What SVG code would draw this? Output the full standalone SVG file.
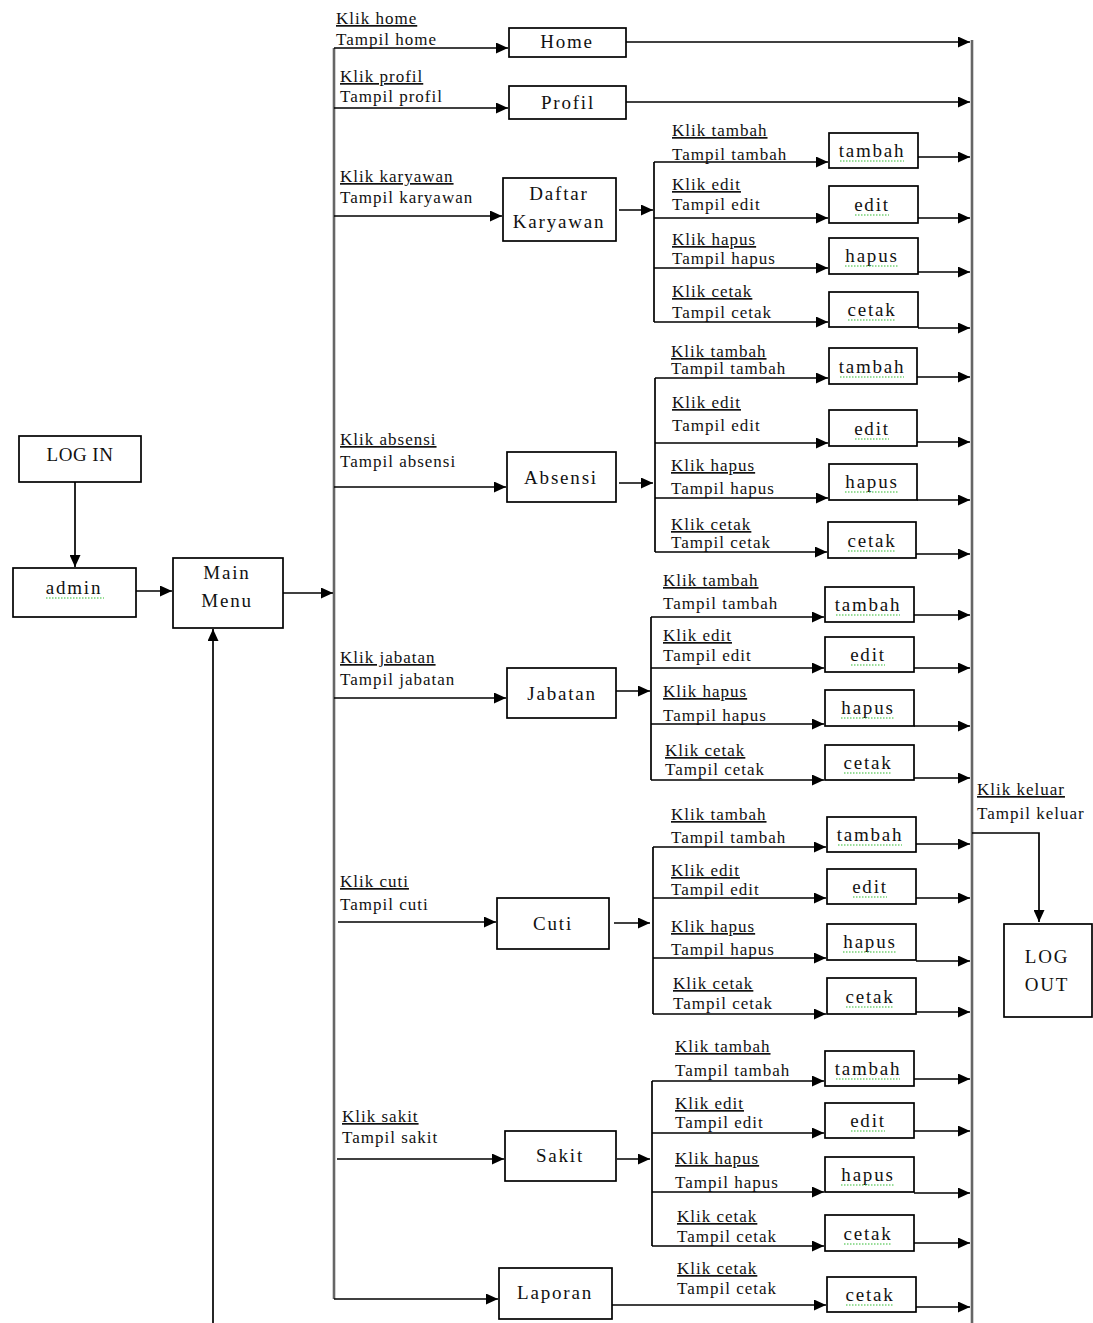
<svg xmlns="http://www.w3.org/2000/svg" width="1093" height="1323" viewBox="0 0 1093 1323">
<defs>
<marker id="ah" viewBox="0 0 12 11" refX="12" refY="5.5" markerWidth="12" markerHeight="11" markerUnits="userSpaceOnUse" orient="auto"><path d="M0,0 L12,5.5 L0,11 z" fill="#000"/></marker>
<style>
.box{fill:#fff;stroke:#000;stroke-width:1.7}
.nt{font-family:"Liberation Serif",serif;font-size:19px;letter-spacing:1.8px;text-anchor:middle;fill:#111}
.lb{font-family:"Liberation Serif",serif;font-size:17px;letter-spacing:1px;fill:#111}
.u{text-decoration:underline}
.ln{stroke:#000;stroke-width:1.7;fill:none}
.ar{stroke:#000;stroke-width:1.7;fill:none;marker-end:url(#ah)}
.bus{stroke:#666;stroke-width:2.6;fill:none}
.sq{stroke:#3b3;stroke-width:1.2;stroke-dasharray:1.5 1.5;fill:none}
</style>
</defs>
<rect width="1093" height="1323" fill="#fff"/>

<g id="connectors">
<line class="bus" x1="334" y1="48" x2="334" y2="1299"/>
<line class="bus" x1="972" y1="40" x2="972" y2="1323"/>
<path class="ar" d="M75,482 V567"/>
<path class="ar" d="M136,591 H172"/>
<path class="ar" d="M283,593 H333"/>
<path class="ar" d="M213,1323 V629"/>
<path class="ar" d="M334,48 H508"/>
<path class="ar" d="M334,108 H508"/>
<path class="ar" d="M334,216 H502"/>
<path class="ar" d="M334,487 H506"/>
<path class="ar" d="M334,698 H506"/>
<path class="ar" d="M338,922 H496"/>
<path class="ar" d="M337,1159 H504"/>
<path class="ar" d="M334,1299 H498"/>
<path class="ar" d="M626,42 H970"/>
<path class="ar" d="M626,102 H970"/>
<path class="ar" d="M619,210 H653"/>
<line class="ln" x1="654" y1="162" x2="654" y2="322"/>
<path class="ar" d="M654,162 H828"/>
<path class="ar" d="M654,218 H828"/>
<path class="ar" d="M654,268 H828"/>
<path class="ar" d="M654,322 H828"/>
<path class="ar" d="M918,157 H970"/>
<path class="ar" d="M918,218 H970"/>
<path class="ar" d="M918,272 H970"/>
<path class="ar" d="M918,328 H970"/>
<path class="ar" d="M619,483 H653"/>
<line class="ln" x1="655" y1="378" x2="655" y2="552"/>
<path class="ar" d="M655,378 H828"/>
<path class="ar" d="M655,443 H828"/>
<path class="ar" d="M655,498 H828"/>
<path class="ar" d="M655,552 H827"/>
<path class="ar" d="M917,377 H970"/>
<path class="ar" d="M917,442 H970"/>
<path class="ar" d="M917,500 H970"/>
<path class="ar" d="M916,554 H970"/>
<path class="ar" d="M616,691 H650"/>
<line class="ln" x1="651" y1="617" x2="651" y2="780"/>
<path class="ar" d="M651,617 H824"/>
<path class="ar" d="M651,668 H824"/>
<path class="ar" d="M651,724 H824"/>
<path class="ar" d="M651,780 H824"/>
<path class="ar" d="M914,615 H970"/>
<path class="ar" d="M914,668 H970"/>
<path class="ar" d="M914,726 H970"/>
<path class="ar" d="M914,778 H970"/>
<path class="ar" d="M614,923 H650"/>
<line class="ln" x1="653" y1="847" x2="653" y2="1014"/>
<path class="ar" d="M653,847 H826"/>
<path class="ar" d="M653,898 H826"/>
<path class="ar" d="M653,958 H826"/>
<path class="ar" d="M653,1014 H826"/>
<path class="ar" d="M916,844 H970"/>
<path class="ar" d="M916,898 H970"/>
<path class="ar" d="M916,961 H970"/>
<path class="ar" d="M916,1012 H970"/>
<path class="ar" d="M617,1159 H650"/>
<line class="ln" x1="652" y1="1081" x2="652" y2="1246"/>
<path class="ar" d="M652,1081 H824"/>
<path class="ar" d="M652,1133 H824"/>
<path class="ar" d="M652,1192 H824"/>
<path class="ar" d="M652,1246 H824"/>
<path class="ar" d="M914,1079 H970"/>
<path class="ar" d="M914,1131 H970"/>
<path class="ar" d="M914,1193 H970"/>
<path class="ar" d="M914,1243 H970"/>
<path class="ar" d="M609,1305 H826"/>
<path class="ar" d="M916,1307 H970"/>
<path class="ar" d="M972,833 H1039 V922"/>
</g>

<g id="labels">
<text class="lb u" x="336" y="24">Klik home</text><text class="lb" x="336" y="45">Tampil home</text>
<text class="lb u" x="340" y="82">Klik profil</text><text class="lb" x="340" y="102">Tampil profil</text>
<text class="lb u" x="340" y="182">Klik karyawan</text><text class="lb" x="340" y="203">Tampil karyawan</text>
<text class="lb u" x="340" y="445">Klik absensi</text><text class="lb" x="340" y="467">Tampil absensi</text>
<text class="lb u" x="340" y="663">Klik jabatan</text><text class="lb" x="340" y="685">Tampil jabatan</text>
<text class="lb u" x="340" y="887">Klik cuti</text><text class="lb" x="340" y="910">Tampil cuti</text>
<text class="lb u" x="342" y="1122">Klik sakit</text><text class="lb" x="342" y="1143">Tampil sakit</text>

<text class="lb u" x="672" y="136">Klik tambah</text><text class="lb" x="672" y="160">Tampil tambah</text>
<text class="lb u" x="672" y="190">Klik edit</text><text class="lb" x="672" y="210">Tampil edit</text>
<text class="lb u" x="672" y="245">Klik hapus</text><text class="lb" x="672" y="264">Tampil hapus</text>
<text class="lb u" x="672" y="297">Klik cetak</text><text class="lb" x="672" y="318">Tampil cetak</text>

<text class="lb u" x="671" y="357">Klik tambah</text><text class="lb" x="671" y="374">Tampil tambah</text>
<text class="lb u" x="672" y="408">Klik edit</text><text class="lb" x="672" y="431">Tampil edit</text>
<text class="lb u" x="671" y="471">Klik hapus</text><text class="lb" x="671" y="494">Tampil hapus</text>
<text class="lb u" x="671" y="530">Klik cetak</text><text class="lb" x="671" y="548">Tampil cetak</text>

<text class="lb u" x="663" y="586">Klik tambah</text><text class="lb" x="663" y="609">Tampil tambah</text>
<text class="lb u" x="663" y="641">Klik edit</text><text class="lb" x="663" y="661">Tampil edit</text>
<text class="lb u" x="663" y="697">Klik hapus</text><text class="lb" x="663" y="721">Tampil hapus</text>
<text class="lb u" x="665" y="756">Klik cetak</text><text class="lb" x="665" y="775">Tampil cetak</text>

<text class="lb u" x="671" y="820">Klik tambah</text><text class="lb" x="671" y="843">Tampil tambah</text>
<text class="lb u" x="671" y="876">Klik edit</text><text class="lb" x="671" y="895">Tampil edit</text>
<text class="lb u" x="671" y="932">Klik hapus</text><text class="lb" x="671" y="955">Tampil hapus</text>
<text class="lb u" x="673" y="989">Klik cetak</text><text class="lb" x="673" y="1009">Tampil cetak</text>

<text class="lb u" x="675" y="1052">Klik tambah</text><text class="lb" x="675" y="1076">Tampil tambah</text>
<text class="lb u" x="675" y="1109">Klik edit</text><text class="lb" x="675" y="1128">Tampil edit</text>
<text class="lb u" x="675" y="1164">Klik hapus</text><text class="lb" x="675" y="1188">Tampil hapus</text>
<text class="lb u" x="677" y="1222">Klik cetak</text><text class="lb" x="677" y="1242">Tampil cetak</text>

<text class="lb u" x="677" y="1274">Klik cetak</text><text class="lb" x="677" y="1294">Tampil cetak</text>

<text class="lb u" x="977" y="795">Klik keluar</text><text class="lb" x="977" y="819">Tampil keluar</text>
</g>

<g id="login"><rect class="box" x="19" y="436" width="122" height="46"/><text class="nt" x="80" y="461" style="letter-spacing:0.5px">LOG IN</text></g>
<g id="admin"><rect class="box" x="13" y="568" width="123" height="49"/><text class="nt" x="74" y="594">admin</text><path class="sq" d="M46,598 H104"/></g>
<g id="mainmenu"><rect class="box" x="173" y="558" width="110" height="70"/><text class="nt" x="227" y="579">Main</text><text class="nt" x="227" y="607">Menu</text></g>
<g id="home"><rect class="box" x="509" y="28" width="117" height="29"/><text class="nt" x="567" y="48">Home</text></g>
<g id="profil"><rect class="box" x="509" y="86" width="117" height="33"/><text class="nt" x="568" y="109">Profil</text></g>
<g id="karyawan"><rect class="box" x="503" y="178" width="113" height="63"/><text class="nt" x="559" y="200">Daftar</text><text class="nt" x="559" y="228">Karyawan</text></g>
<g id="absensi"><rect class="box" x="507" y="452" width="109" height="50"/><text class="nt" x="561" y="484">Absensi</text></g>
<g id="jabatan"><rect class="box" x="507" y="668" width="109" height="50"/><text class="nt" x="562" y="700">Jabatan</text></g>
<g id="cuti"><rect class="box" x="497" y="898" width="112" height="51"/><text class="nt" x="553" y="930">Cuti</text></g>
<g id="sakit"><rect class="box" x="505" y="1131" width="111" height="50"/><text class="nt" x="560" y="1162">Sakit</text></g>
<g id="laporan"><rect class="box" x="499" y="1268" width="113" height="51"/><text class="nt" x="555" y="1299">Laporan</text></g>
<g id="logout"><rect class="box" x="1004" y="924" width="88" height="93"/><text class="nt" x="1047" y="963">LOG</text><text class="nt" x="1047" y="991">OUT</text></g>

<g id="k-tambah"><rect class="box" x="829" y="133" width="89" height="35"/><text class="nt" x="872" y="157">tambah</text><path class="sq" d="M840,161 H904"/></g>
<g id="k-edit"><rect class="box" x="829" y="186" width="89" height="37"/><text class="nt" x="872" y="211">edit</text><path class="sq" d="M855,215 H889"/></g>
<g id="k-hapus"><rect class="box" x="829" y="238" width="89" height="36"/><text class="nt" x="872" y="262">hapus</text><path class="sq" d="M845,266 H899"/></g>
<g id="k-cetak"><rect class="box" x="829" y="292" width="89" height="35"/><text class="nt" x="872" y="316">cetak</text><path class="sq" d="M848,320 H896"/></g>

<g id="a-tambah"><rect class="box" x="829" y="348" width="88" height="36"/><text class="nt" x="872" y="373">tambah</text><path class="sq" d="M840,377 H904"/></g>
<g id="a-edit"><rect class="box" x="829" y="410" width="88" height="36"/><text class="nt" x="872" y="435">edit</text><path class="sq" d="M855,439 H889"/></g>
<g id="a-hapus"><rect class="box" x="829" y="464" width="88" height="36"/><text class="nt" x="872" y="488">hapus</text><path class="sq" d="M845,492 H899"/></g>
<g id="a-cetak"><rect class="box" x="828" y="522" width="88" height="36"/><text class="nt" x="872" y="547">cetak</text><path class="sq" d="M848,551 H896"/></g>

<g id="j-tambah"><rect class="box" x="825" y="587" width="89" height="35"/><text class="nt" x="868" y="611">tambah</text><path class="sq" d="M836,615 H900"/></g>
<g id="j-edit"><rect class="box" x="825" y="637" width="89" height="35"/><text class="nt" x="868" y="661">edit</text><path class="sq" d="M851,665 H885"/></g>
<g id="j-hapus"><rect class="box" x="825" y="690" width="89" height="36"/><text class="nt" x="868" y="714">hapus</text><path class="sq" d="M841,718 H895"/></g>
<g id="j-cetak"><rect class="box" x="825" y="745" width="89" height="35"/><text class="nt" x="868" y="769">cetak</text><path class="sq" d="M844,773 H892"/></g>

<g id="c-tambah"><rect class="box" x="827" y="817" width="89" height="35"/><text class="nt" x="870" y="841">tambah</text><path class="sq" d="M838,845 H902"/></g>
<g id="c-edit"><rect class="box" x="827" y="869" width="89" height="35"/><text class="nt" x="870" y="893">edit</text><path class="sq" d="M853,897 H887"/></g>
<g id="c-hapus"><rect class="box" x="827" y="924" width="89" height="36"/><text class="nt" x="870" y="948">hapus</text><path class="sq" d="M843,952 H897"/></g>
<g id="c-cetak"><rect class="box" x="827" y="978" width="89" height="36"/><text class="nt" x="870" y="1003">cetak</text><path class="sq" d="M846,1007 H894"/></g>

<g id="s-tambah"><rect class="box" x="825" y="1051" width="89" height="35"/><text class="nt" x="868" y="1075">tambah</text><path class="sq" d="M836,1079 H900"/></g>
<g id="s-edit"><rect class="box" x="825" y="1103" width="89" height="35"/><text class="nt" x="868" y="1127">edit</text><path class="sq" d="M851,1131 H885"/></g>
<g id="s-hapus"><rect class="box" x="825" y="1157" width="89" height="35"/><text class="nt" x="868" y="1181">hapus</text><path class="sq" d="M841,1185 H895"/></g>
<g id="s-cetak"><rect class="box" x="825" y="1215" width="89" height="36"/><text class="nt" x="868" y="1240">cetak</text><path class="sq" d="M844,1244 H892"/></g>

<g id="l-cetak"><rect class="box" x="827" y="1277" width="89" height="35"/><text class="nt" x="870" y="1301">cetak</text><path class="sq" d="M846,1305 H894"/></g>
</svg>
